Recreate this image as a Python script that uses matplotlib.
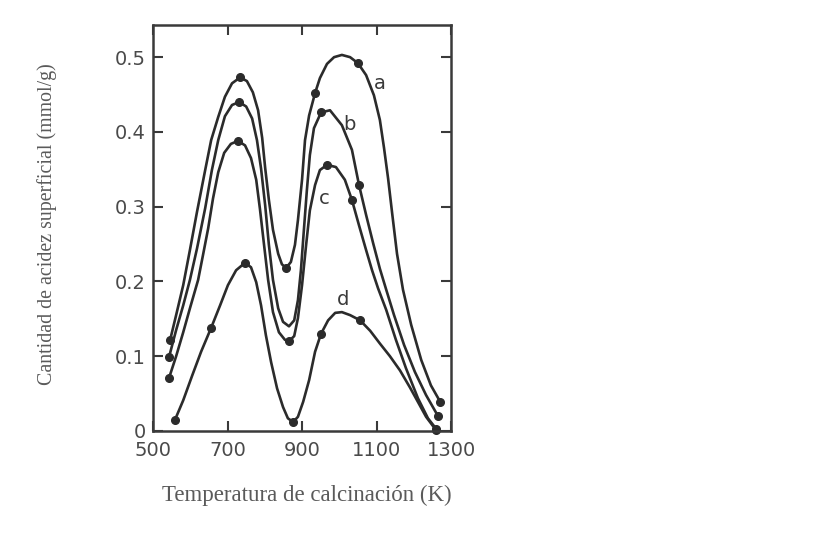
import matplotlib
matplotlib.use('Agg')
import matplotlib.pyplot as plt

# Traced curves: calcination temperature (K) vs surface acidity (mmol/g)
temp_a = [546, 562, 581, 599, 618, 640, 656, 675, 693, 712, 734,
          752, 768, 782, 793, 801, 811, 822, 836, 846, 857,
          870, 881, 889, 900, 908, 919, 935,
          948, 967, 986, 1007, 1029, 1050,
          1072, 1093, 1109, 1120, 1131, 1142, 1155, 1171, 1193, 1220, 1246, 1271]
acid_a = [0.122, 0.155, 0.195, 0.242, 0.293, 0.349, 0.389, 0.420, 0.447, 0.465, 0.473,
          0.468, 0.453, 0.429, 0.392, 0.352, 0.309, 0.269, 0.237, 0.223, 0.218,
          0.226, 0.249, 0.282, 0.336, 0.389, 0.422, 0.452,
          0.472, 0.491, 0.500, 0.503, 0.500, 0.492,
          0.476, 0.449, 0.416, 0.379, 0.338, 0.291, 0.237, 0.189, 0.142, 0.095, 0.061, 0.039]

temp_b = [543, 562, 581, 599, 618, 640, 658, 675, 693, 712, 731,
          750, 766, 779, 790, 801, 811, 822, 836, 849, 865,
          879, 889, 897, 905, 913, 921, 932, 951,
          975, 1007, 1034, 1053,
          1072, 1091, 1109, 1126, 1147, 1174, 1203, 1233, 1265]
acid_b = [0.099, 0.135, 0.168, 0.202, 0.244, 0.298, 0.349, 0.389, 0.421, 0.436, 0.440,
          0.434, 0.418, 0.389, 0.351, 0.302, 0.249, 0.202, 0.164, 0.146, 0.140,
          0.148, 0.175, 0.215, 0.269, 0.322, 0.369, 0.405, 0.426,
          0.429, 0.409, 0.376, 0.329,
          0.289, 0.251, 0.217, 0.189, 0.155, 0.115, 0.079, 0.048, 0.020]

temp_c = [543, 562, 581, 599, 621, 634, 648, 661, 675, 691, 709, 728,
          747, 763, 777, 787, 798, 809, 822, 838, 854, 865,
          879, 889, 900, 911, 921, 935, 948, 967,
          991, 1015, 1034,
          1053, 1072, 1088, 1104, 1126, 1152, 1179, 1211, 1238, 1260]
acid_c = [0.071, 0.100, 0.132, 0.164, 0.202, 0.235, 0.271, 0.311, 0.346, 0.372, 0.384, 0.388,
          0.382, 0.365, 0.336, 0.297, 0.249, 0.202, 0.159, 0.132, 0.122, 0.120,
          0.127, 0.151, 0.195, 0.249, 0.295, 0.329, 0.349, 0.356,
          0.353, 0.336, 0.309,
          0.275, 0.242, 0.215, 0.191, 0.162, 0.122, 0.084, 0.044, 0.017, 0.003]

temp_d = [559, 581, 605, 629, 656, 680, 701, 723, 747,
          763, 777, 790, 803, 817, 833, 849, 862, 876,
          889, 903, 919, 935, 951, 970, 989, 1007, 1029, 1056,
          1083, 1109, 1136, 1163, 1190, 1211, 1233, 1260]
acid_d = [0.015, 0.041, 0.074, 0.106, 0.138, 0.168, 0.195, 0.215, 0.225,
          0.219, 0.199, 0.168, 0.128, 0.092, 0.057, 0.032, 0.017, 0.012,
          0.019, 0.039, 0.068, 0.106, 0.130, 0.148, 0.158, 0.159, 0.155, 0.148,
          0.134, 0.117, 0.100, 0.081, 0.058, 0.039, 0.019, 0.001]

# Measured points (filled dots)
pts_a_t = [546, 734, 857, 935, 1050, 1271]
pts_a_v = [0.122, 0.473, 0.218, 0.452, 0.492, 0.039]
pts_b_t = [543, 731, 951, 1053, 1265]
pts_b_v = [0.099, 0.440, 0.426, 0.329, 0.020]
pts_c_t = [543, 728, 865, 967, 1034, 1260]
pts_c_v = [0.071, 0.388, 0.120, 0.356, 0.309, 0.003]
pts_d_t = [559, 656, 747, 876, 951, 1056, 1260]
pts_d_v = [0.015, 0.138, 0.225, 0.012, 0.130, 0.148, 0.001]

curve_names = ['a', 'b', 'c', 'd']
name_t = [1109, 1027, 959, 1011]
name_v = [0.465, 0.410, 0.311, 0.176]

x_ticks = [500, 700, 900, 1100, 1300]
y_ticks = [0, 0.1, 0.2, 0.3, 0.4, 0.5]
y_ticklabels = ['0', '0.1', '0.2', '0.3', '0.4', '0.5']

ink = '#2b2b2b'
text_grey = '#5a5a5a'

fig = plt.figure(figsize=(8.34, 5.51), dpi=100)
ax = fig.add_axes([0.1835, 0.2178, 0.3573, 0.7368])

curves = [(temp_a, acid_a, pts_a_t, pts_a_v),
          (temp_b, acid_b, pts_b_t, pts_b_v),
          (temp_c, acid_c, pts_c_t, pts_c_v),
          (temp_d, acid_d, pts_d_t, pts_d_v)]
for t, v, pt, pv in curves:
    ax.plot(t, v, color=ink, lw=1.9, solid_joinstyle='round', solid_capstyle='round')
    ax.plot(pt, pv, 'o', color=ink, ms=5.5, clip_on=False)

for name, t, v in zip(curve_names, name_t, name_v):
    ax.text(t, v, name, fontsize=14, color='#3a3a3a', ha='center', va='center')

ax.set_xlim(500, 1300)
ax.set_ylim(0, 0.543)
ax.set_xticks(x_ticks)
ax.set_yticks(y_ticks)
ax.set_yticklabels(y_ticklabels)

for side in ax.spines.values():
    side.set_color('#3a3a3a')
    side.set_linewidth(1.8)

ax.tick_params(direction='in', length=7, width=1.5, color='#3a3a3a',
               top=True, right=True, labelsize=14, labelcolor='#4a4a4a')
ax.tick_params(axis='x', pad=7)
ax.tick_params(axis='y', pad=5)

ax.set_xlabel('Temperatura de calcinación (K)', family='Liberation Serif',
              fontsize=16.5, color=text_grey, va='center')
ax.set_ylabel('Cantidad de acidez superficial (mmol/g)', family='Liberation Serif',
              fontsize=14.3, color=text_grey, va='center')
ax.xaxis.set_label_coords(0.517, -0.158)
ax.yaxis.set_label_coords(-0.356, 0.51)

fig.savefig('out.png', dpi=100, facecolor='white')
